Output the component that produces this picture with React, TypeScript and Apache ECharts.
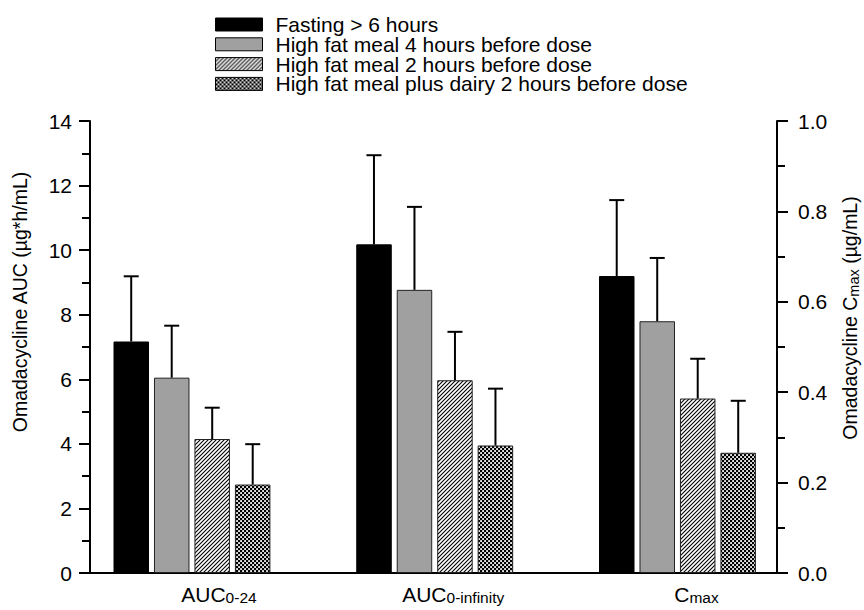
import React, { useEffect, useRef } from 'react';
import * as echarts from 'echarts';

// ---------- data ----------
const categoryMain = ['AUC', 'AUC', 'C'];
const categorySub = ['0-24', '0-infinity', 'max'];
const categoryPositions = [1, 2, 3];
const seriesNames = [
  'Fasting > 6 hours',
  'High fat meal 4 hours before dose',
  'High fat meal 2 hours before dose',
  'High fat meal plus dairy 2 hours before dose',
];
// AUC (µg*h/mL) per condition: [AUC0-24, AUC0-infinity]
const aucMean = [
  [7.17, 10.18],
  [6.05, 8.77],
  [4.15, 5.97],
  [2.74, 3.95],
];
const aucSD = [
  [2.02, 2.76],
  [1.61, 2.57],
  [0.97, 1.5],
  [1.25, 1.76],
];
// Cmax (µg/mL) per condition
const cmaxMean = [0.657, 0.557, 0.386, 0.266];
const cmaxSD = [0.168, 0.14, 0.088, 0.115];
// axis ranges
const leftAxis = { min: 0, max: 14, interval: 2 };
const rightAxis = { min: 0, max: 1, interval: 0.2 };

const FONT = '"Liberation Sans", Arial, Helvetica, sans-serif';

function makePattern(kind: 'hatch' | 'cross') {
  const s = 2;
  const size = 4;
  const c = document.createElement('canvas');
  c.width = size * s;
  c.height = size * s;
  const ctx = c.getContext('2d')!;
  ctx.scale(s, s);
  if (kind === 'hatch') {
    ctx.fillStyle = '#fff';
    ctx.fillRect(0, 0, size, size);
    ctx.strokeStyle = '#000';
    ctx.lineWidth = 1.1;
    ctx.beginPath();
    for (let k = -1; k <= 1; k++) {
      ctx.moveTo(k * size - 1, size + 1);
      ctx.lineTo(k * size + size + 1, -1);
    }
    ctx.stroke();
  } else {
    ctx.fillStyle = '#000';
    ctx.fillRect(0, 0, size, size);
    ctx.fillStyle = '#fff';
    ctx.fillRect(0.15, 0.15, 1.8, 1.8);
    ctx.fillRect(2.15, 2.15, 1.8, 1.8);
  }
  return { image: c.toDataURL(), repeat: 'repeat', imageWidth: size, imageHeight: size };
}

export default function App() {
  const ref = useRef<HTMLDivElement>(null);
  useEffect(() => {
    if (!ref.current) return;
    const chart = echarts.init(ref.current, undefined, { renderer: 'svg' });
    const hatch = makePattern('hatch');
    const cross = makePattern('cross');
    const styles = [
      { color: '#000000', borderColor: '#000000', borderWidth: 1 },
      { color: '#a0a0a0', borderColor: '#222222', borderWidth: 1 },
      { color: hatch, borderColor: '#222222', borderWidth: 1 },
      { color: cross, borderColor: '#222222', borderWidth: 1 },
    ];
    const barW = 35.5;
    const gapPx = 5;
    const labelPad = [54, 37, 38];

    const errRender = (params: any, api: any) => {
      const x = api.value(0);
      const i = api.value(1);
      const m = api.value(2);
      const sd = api.value(3);
      const base = api.coord([x, m]);
      const top = api.coord([x, m + sd]);
      const cx = base[0] + (i - 1.5) * (barW + gapPx);
      return {
        type: 'group',
        children: [
          { type: 'line', shape: { x1: cx, y1: base[1], x2: cx, y2: top[1] }, style: { stroke: '#000', lineWidth: 2 } },
          { type: 'line', shape: { x1: cx - 7.5, y1: top[1], x2: cx + 7.5, y2: top[1] }, style: { stroke: '#000', lineWidth: 2 } },
        ],
      };
    };

    const yAxisCommon = {
      type: 'value',
      axisLine: { show: true, onZero: false, lineStyle: { color: '#000', width: 2 } },
      axisTick: { show: true, inside: false, length: 11, lineStyle: { color: '#000', width: 2 } },
      minorTick: { show: true, splitNumber: 2, length: 8, lineStyle: { color: '#000', width: 2 } },
      splitLine: { show: false },
      minorSplitLine: { show: false },
    };

    const option: any = {
      animation: false,
      textStyle: { fontFamily: FONT },
      grid: { left: 90, right: 87, top: 121, bottom: 37, containLabel: false },
      legend: {
        data: seriesNames,
        orient: 'vertical',
        left: 215,
        top: 14,
        padding: 0,
        itemWidth: 47,
        itemHeight: 13,
        itemGap: -1.2,
        icon: 'rect',
        selectedMode: false,
        itemStyle: { borderWidth: 1, borderColor: '#000' },
        textStyle: { fontSize: 21, color: '#000', fontFamily: FONT, lineHeight: 20, padding: [0, 0, 0, 8] },
      },
      xAxis: [
        {
          type: 'value',
          min: 0.58,
          max: 3.41,
          axisLine: { show: true, onZero: false, lineStyle: { color: '#000', width: 2 } },
          axisTick: { show: false },
          splitLine: { show: false },
          axisLabel: {
            customValues: categoryPositions,
            margin: 10,
            color: '#000',
            formatter: (v: number) => {
              const i = categoryPositions.indexOf(Math.round(v));
              if (i < 0) return '';
              return `{g${i}|}{m|${categoryMain[i]}}{s|${categorySub[i]}}`;
            },
            rich: {
              g0: { width: labelPad[0] },
              g1: { width: labelPad[1] },
              g2: { width: labelPad[2] },
              m: { fontSize: 21, lineHeight: 22, color: '#000', fontFamily: FONT },
              s: { fontSize: 15.5, lineHeight: 7, verticalAlign: 'bottom', color: '#000', fontFamily: FONT },
            },
          },
        },
        { type: 'value', min: 0.58, max: 3.41, show: false },
      ],
      yAxis: [
        {
          ...yAxisCommon,
          position: 'left',
          min: leftAxis.min,
          max: leftAxis.max,
          interval: leftAxis.interval,
          axisLabel: { fontSize: 21, color: '#000', margin: 18, fontFamily: FONT },
        },
        {
          ...yAxisCommon,
          position: 'right',
          min: rightAxis.min,
          max: rightAxis.max,
          interval: rightAxis.interval,
          axisLabel: { fontSize: 21, color: '#000', margin: 21, fontFamily: FONT, formatter: (v: number) => v.toFixed(1) },
        },
      ],
      series: [
        ...seriesNames.map((name, i) => ({
          type: 'bar',
          name,
          xAxisIndex: 0,
          yAxisIndex: 0,
          barWidth: barW,
          barGap: '14%',
          itemStyle: styles[i],
          data: aucMean[i].map((m, j) => [categoryPositions[j], m]),
        })),
        ...seriesNames.map((name, i) => ({
          type: 'bar',
          name,
          xAxisIndex: 1,
          yAxisIndex: 1,
          barWidth: barW,
          barGap: '14%',
          itemStyle: styles[i],
          data: [[categoryPositions[2], cmaxMean[i]]],
        })),
        {
          type: 'custom',
          xAxisIndex: 0,
          yAxisIndex: 0,
          silent: true,
          z: 3,
          encode: { x: 0, y: 2 },
          renderItem: errRender,
          data: aucMean.flatMap((row, i) => row.map((m, j) => [categoryPositions[j], i, m, aucSD[i][j]])),
        },
        {
          type: 'custom',
          xAxisIndex: 1,
          yAxisIndex: 1,
          silent: true,
          z: 3,
          encode: { x: 0, y: 2 },
          renderItem: errRender,
          data: cmaxMean.map((m, i) => [categoryPositions[2], i, m, cmaxSD[i]]),
        },
      ],
      graphic: [
        {
          type: 'text',
          x: 20,
          y: 302,
          rotation: Math.PI / 2,
          style: {
            text: 'Omadacycline AUC (µg*h/mL)',
            fontSize: 19.5,
            fontFamily: FONT,
            fill: '#000',
            align: 'center',
            verticalAlign: 'middle',
          },
        },
        {
          type: 'text',
          x: 850,
          y: 318,
          rotation: Math.PI / 2,
          style: {
            text: '{m|Omadacycline C}{s|max}{m| (µg/mL)}',
            align: 'center',
            verticalAlign: 'middle',
            rich: {
              m: { fontSize: 19.5, lineHeight: 22, fill: '#000', fontFamily: FONT },
              s: { fontSize: 14.5, lineHeight: 7, verticalAlign: 'bottom', fill: '#000', fontFamily: FONT },
            },
          },
        },
      ],
    };
    chart.setOption(option);
    return () => chart.dispose();
  }, []);
  return <div ref={ref} style={{ position: 'absolute', left: 0, top: 0, width: 864, height: 610 }} />;
}
